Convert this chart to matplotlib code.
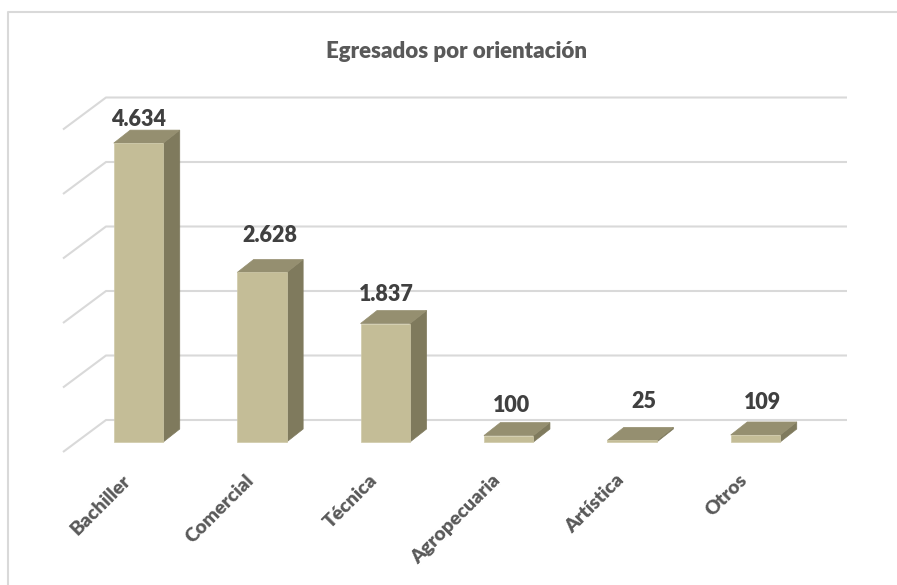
import matplotlib
matplotlib.use('Agg')
import matplotlib.pyplot as plt
from matplotlib.patches import Polygon
from matplotlib.transforms import ScaledTranslation

categories = ['Bachiller', 'Comercial', 'Técnica', 'Agropecuaria', 'Artística', 'Otros']
values = [4634, 2628, 1837, 100, 25, 109]
value_labels = ['4.634', '2.628', '1.837', '100', '25', '109']
grid_values = [0, 1000, 2000, 3000, 4000, 5000]

# label nudges in pixels, the original chart places them by hand
label_dx = [0, 8, 1, 3, 12, 7]
label_dy = [10.5, 24, 16.5, 17, 26, 19.5]

W, H = 897, 585
PX_X = 123.4          # pixels per category
PX_Y = 0.0645         # pixels per unit
BAR_W = 49.5 / PX_X
DX = 16.5 / PX_X      # bar depth
DY = 13 / PX_Y
WALL_DX = 43 / PX_X   # floor depth
WALL_DY = 32 / PX_Y
FRONT = -10 / PX_Y    # front edge of the floor

plt.rcParams['font.family'] = ['Lato', 'DejaVu Sans']

fig = plt.figure(figsize=(W / 100, H / 100), dpi=100)

# chart border, left and top only reach the picture
fig.add_artist(plt.Line2D([7.5 / W, 7.5 / W, 1], [0, 1 - 11.5 / H, 1 - 11.5 / H], color='#d9d9d9', linewidth=1.5))

ax = fig.add_axes([63 / W, 1 - 452 / H, 784 / W, 355 / H])
ax.set_xlim((63 - 138.5) / PX_X, (847 - 138.5) / PX_X)
ax.set_ylim(FRONT, FRONT + 355 / PX_Y)
ax.patch.set_visible(False)
for s in ax.spines.values():
    s.set_visible(False)
ax.set_yticks([])

# walls and gridlines
x0 = ax.get_xlim()[0]
x1 = ax.get_xlim()[1]
for g in grid_values:
    ax.plot([x0, x0 + WALL_DX, x1], [FRONT + g, FRONT + g + WALL_DY, FRONT + g + WALL_DY],
            color='#d9d9d9', linewidth=1.5, clip_on=False, zorder=1, solid_capstyle='butt')

# 3D bars
for i, v in enumerate(values):
    left = i - BAR_W / 2
    right = i + BAR_W / 2
    ax.add_patch(Polygon([(right, 0), (right + DX, DY), (right + DX, v + DY), (right, v)],
                         facecolor='#7f7a5d', edgecolor='#7f7a5d', linewidth=0.5, zorder=2))
    ax.add_patch(Polygon([(left, v), (left + DX, v + DY), (right + DX, v + DY), (right, v)],
                         facecolor='#958f70', edgecolor='#958f70', linewidth=0.5, zorder=2))
ax.bar(range(len(values)), values, width=BAR_W, color='#c4bd97', edgecolor='#cfc9a8', linewidth=0.5, zorder=3)

for i, (v, lab) in enumerate(zip(values, value_labels)):
    ax.text(i + label_dx[i] / PX_X, v + DY + label_dy[i] / PX_Y, lab, ha='center', va='center',
            fontsize=15.5, fontweight='heavy', color='#404040', zorder=4)

ax.set_xticks(range(len(categories)))
ax.set_xticklabels(categories, rotation=45, ha='right', va='top', rotation_mode='anchor',
                   fontsize=14, fontweight='heavy', color='#595959')
ax.tick_params(axis='x', length=0, pad=14)
shift = ScaledTranslation(-17 / 100, 0, fig.dpi_scale_trans)
for lab in ax.get_xticklabels():
    lab.set_transform(lab.get_transform() + shift)

fig.text(457 / W, 1 - 52 / H, 'Egresados por orientación', ha='center', va='center', fontsize=16,
         fontweight='heavy', color='#595959')

fig.savefig('out.png', dpi=100)
